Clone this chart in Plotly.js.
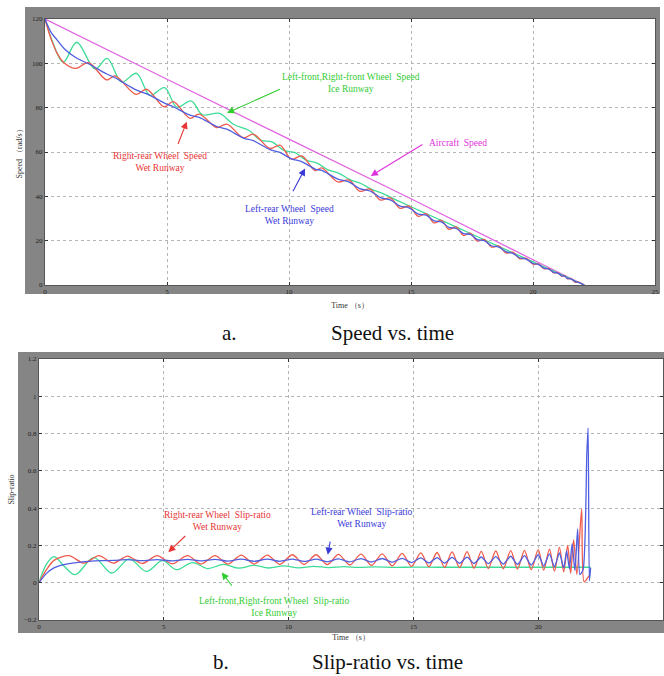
<!DOCTYPE html>
<html>
<head>
<meta charset="utf-8">
<script src="https://cdn.plot.ly/plotly-3.0.1.min.js"></script>
<style>html,body{margin:0;padding:0;background:#fff;}#chart{width:664px;height:676px;}</style>
</head>
<body>
<div id="chart"></div>
<script>
// ---------- Data ----------
// (a) Speed vs. time  [rad/s]
const tAircraft = [0, 5, 10, 15, 20, 22.1];
const speedAircraft = [120, 92.8, 65.8, 38.9, 11.4, 0];

const tWetSpeed = [0, 0.25, 0.5, 0.8, 1.27, 1.78, 2.53, 2.87, 3.73, 4.17, 4.88, 5.26, 5.94, 6.32, 7.04, 7.45, 8.13, 8.54, 9.22, 9.63, 10.1, 10.52, 11.07, 11.34, 12.0, 12.45, 12.9, 13.32, 13.75, 14.15, 14.55, 14.92, 15.3, 15.62, 15.95, 16.25, 16.55, 16.85, 17.15, 17.43, 17.72, 18.0, 18.3, 18.6, 18.9, 19.17, 19.45, 19.72, 20.0, 20.22, 20.45, 20.65, 20.85, 21.02, 21.18, 21.3, 21.42, 21.55, 21.74, 21.84, 22.1];
const speedRightRear = [120, 111, 104.5, 100, 97.7, 100.3, 92.5, 94.3, 86.0, 88.3, 80.4, 82.7, 75.2, 77.1, 71.0, 72.6, 66.4, 68.0, 61.6, 63.1, 56.8, 58.2, 51.6, 52.8, 46.5, 47.4, 42.3, 43.3, 38.3, 39.3, 34.6, 35.6, 31.0, 32.2, 28.0, 29.2, 25.1, 26.2, 22.4, 23.4, 19.8, 20.6, 17.1, 17.6, 14.4, 14.8, 11.9, 12.0, 9.4, 9.5, 7.4, 7.4, 5.5, 5.5, 4.0, 4.1, 2.8, 2.9, 1.2, 1.4, 0];
const speedLeftRear = [120, 114, 110.5, 106.5, 102.5, 99.8, 95.2, 93.5, 88.0, 86.2, 82.2, 80.4, 76.6, 75.6, 71.5, 70.3, 66.3, 65.1, 61.1, 59.8, 56.9, 55.7, 52.3, 51.7, 47.8, 46.5, 43.5, 42.4, 39.4, 38.4, 35.6, 34.8, 32.0, 31.5, 28.9, 28.5, 26.0, 25.5, 23.2, 22.8, 20.5, 20.0, 17.7, 17.1, 14.9, 14.3, 12.3, 11.7, 9.7, 9.3, 7.6, 7.2, 5.7, 5.4, 4.15, 4.0, 2.9, 2.8, 1.5, 1.3, 0];

const tIceSpeed = [0, 0.3, 0.75, 1.3, 2.05, 2.55, 3.14, 3.75, 4.3, 4.9, 5.4, 6.0, 6.45, 7.15, 7.72, 8.35, 8.85, 9.3, 9.8, 10.25, 10.7, 11.15, 11.6, 12.05, 12.5, 12.95, 13.4, 13.85, 14.5, 15.5, 16.5, 17.5, 18.5, 19.5, 20.5, 21.5, 22.1];
const speedIceFront = [120, 110, 100.5, 109.5, 97.5, 102.2, 91.6, 95.5, 85.6, 89.0, 80.3, 83.0, 76.8, 77.4, 72.5, 69.8, 65.3, 64.6, 60.7, 59.7, 56.3, 55.0, 51.9, 50.4, 47.5, 45.8, 43.1, 41.2, 37.8, 32.8, 27.9, 22.9, 17.9, 12.9, 8.0, 3.0, 0];

// (b) Slip-ratio vs. time
const tSlipRightRear = [0, 0.3, 0.6, 1.2, 1.8, 2.4, 2.98, 3.55, 4.14, 4.73, 5.34, 5.95, 6.5, 7.05, 7.58, 8.1, 8.62, 9.15, 9.65, 10.15, 10.62, 11.1, 11.55, 12.0, 12.45, 12.9, 13.32, 13.75, 14.15, 14.55, 14.92, 15.3, 15.62, 15.95, 16.25, 16.55, 16.85, 17.15, 17.43, 17.72, 18.0, 18.3, 18.6, 18.9, 19.17, 19.45, 19.72, 20.0, 20.22, 20.45, 20.65, 20.85, 21.02, 21.18, 21.3, 21.42, 21.55, 21.74, 21.84, 22.0, 22.08];
const slipRightRear = [0, 0.07, 0.12, 0.145, 0.105, 0.145, 0.105, 0.143, 0.103, 0.145, 0.102, 0.145, 0.1, 0.145, 0.1, 0.148, 0.1, 0.148, 0.098, 0.15, 0.098, 0.15, 0.097, 0.152, 0.095, 0.153, 0.093, 0.155, 0.09, 0.157, 0.088, 0.16, 0.085, 0.162, 0.082, 0.165, 0.08, 0.167, 0.078, 0.168, 0.076, 0.17, 0.075, 0.172, 0.073, 0.174, 0.07, 0.177, 0.068, 0.18, 0.062, 0.19, 0.058, 0.2, 0.05, 0.23, 0.045, 0.395, 0.005, 0.03, 0.045];

const tSlipLeftRear = [0, 0.3, 0.6, 1.0, 1.5, 2.0, 2.5, 3.0, 3.55, 4.14, 4.73, 5.34, 5.95, 6.5, 7.05, 7.58, 8.1, 8.62, 9.15, 9.65, 10.15, 10.62, 11.1, 11.55, 12.0, 12.45, 12.9, 13.32, 13.75, 14.15, 14.55, 14.92, 15.3, 15.62, 15.95, 16.25, 16.55, 16.85, 17.15, 17.43, 17.72, 18.0, 18.3, 18.6, 18.9, 19.17, 19.45, 19.72, 20.0, 20.22, 20.45, 20.65, 20.85, 21.02, 21.14, 21.25, 21.36, 21.47, 21.58, 21.67, 21.8, 21.95, 22.0, 22.05, 22.1];
const slipLeftRear = [0, 0.05, 0.08, 0.097, 0.108, 0.114, 0.118, 0.12, 0.124, 0.118, 0.124, 0.117, 0.125, 0.117, 0.125, 0.116, 0.126, 0.115, 0.126, 0.115, 0.127, 0.114, 0.127, 0.113, 0.128, 0.112, 0.129, 0.111, 0.13, 0.11, 0.131, 0.108, 0.133, 0.106, 0.135, 0.105, 0.136, 0.104, 0.137, 0.103, 0.138, 0.102, 0.14, 0.1, 0.142, 0.098, 0.145, 0.095, 0.15, 0.09, 0.155, 0.085, 0.16, 0.08, 0.17, 0.075, 0.21, 0.065, 0.288, 0.043, 0.07, 0.7, 0.83, 0.01, 0.08];

const tSlipIce = [0, 0.3, 0.6, 1.0, 1.45, 2.2, 2.92, 3.62, 4.3, 4.95, 5.5, 6.15, 6.75, 7.4, 8.0, 8.6, 9.2, 9.8, 10.4, 11.0, 11.6, 12.2, 12.8, 13.5, 14.2, 15.0, 16.0, 17.0, 18.0, 19.0, 20.0, 21.0, 22.1];
const slipIceFront = [0, 0.1, 0.14, 0.09, 0.043, 0.135, 0.052, 0.128, 0.061, 0.118, 0.07, 0.108, 0.076, 0.098, 0.078, 0.093, 0.079, 0.09, 0.08, 0.088, 0.081, 0.086, 0.082, 0.085, 0.082, 0.084, 0.083, 0.083, 0.083, 0.083, 0.083, 0.083, 0.083];

const xTicks = [0, 5, 10, 15, 20, 25];
const speedTicks = [0, 20, 40, 60, 80, 100, 120];
const slipTicks = [-0.2, 0, 0.2, 0.4, 0.6, 0.8, 1, 1.2];

// ---------- Layout helpers ----------
const W = 664, H = 676;
const px = v => v / W;
const py = v => 1 - v / H;

const C = {
  magenta: '#e066e0', magentaText: '#dd33dd',
  green: '#3ddc97', greenText: '#33cc33',
  red: '#f05a4a', redText: '#e83434',
  blue: '#4f5fe0', blueText: '#3a3ad8'
};
const SERIF = '"Liberation Serif", "DejaVu Serif", serif';

function line(x, y, color, xa, ya, name, smooth) {
  return {x: x, y: y, type: 'scatter', mode: 'lines', name: name, xaxis: xa, yaxis: ya,
    line: {color: color, width: 1.3, shape: 'spline', smoothing: smooth}, hoverinfo: 'skip'};
}

const traces = [
  line(tAircraft, speedAircraft, C.magenta, 'x', 'y', 'Aircraft Speed', 0),
  line(tIceSpeed, speedIceFront, C.green, 'x', 'y', 'Left-front,Right-front Wheel Speed (Ice Runway)', 1),
  line(tWetSpeed, speedRightRear, C.red, 'x', 'y', 'Right-rear Wheel Speed (Wet Runway)', 1),
  line(tWetSpeed, speedLeftRear, C.blue, 'x', 'y', 'Left-rear Wheel Speed (Wet Runway)', 1),
  line(tSlipIce, slipIceFront, C.green, 'x2', 'y2', 'Left-front,Right-front Wheel Slip-ratio (Ice Runway)', 1),
  line(tSlipRightRear, slipRightRear, C.red, 'x2', 'y2', 'Right-rear Wheel Slip-ratio (Wet Runway)', 0.8),
  line(tSlipLeftRear, slipLeftRear, C.blue, 'x2', 'y2', 'Left-rear Wheel Slip-ratio (Wet Runway)', 0.6)
];

const tickFont = {family: SERIF, size: 7, color: '#222'};
function xAxis(dom, anchor, standoff) {
  return {domain: dom, anchor: anchor, range: [0, 25], tickvals: xTicks, ticks: 'inside', ticklen: 3,
    tickcolor: '#333', showline: true, linecolor: '#555', linewidth: 1, mirror: 'ticks',
    showgrid: true, gridcolor: '#b5b5b5', griddash: 'dot', gridwidth: 1, zeroline: false,
    tickfont: tickFont, automargin: false,
    title: {text: 'Time （s）', font: {family: SERIF, size: 8, color: '#333'}, standoff: standoff}};
}
function yAxis(dom, anchor, range, vals, title, standoff) {
  return {domain: dom, anchor: anchor, range: range, tickvals: vals, ticks: 'inside', ticklen: 3,
    tickcolor: '#333', showline: true, linecolor: '#555', linewidth: 1, mirror: 'ticks',
    showgrid: true, gridcolor: '#b5b5b5', griddash: 'dot', gridwidth: 1, zeroline: false,
    tickfont: tickFont, automargin: false,
    title: {text: title, font: {family: SERIF, size: 8, color: '#333'}, standoff: standoff}};
}

// plot areas & frames in pixels
const P1 = {l: 45, r: 655, t: 19, b: 285}, F1 = {l: 25, r: 660, t: 7, b: 294};
const P2 = {l: 39, r: 663, t: 359, b: 620}, F2 = {l: 18, r: 664, t: 352, b: 633};

function framePath(F, P) {
  const o = `M${px(F.l)},${py(F.t)} L${px(F.r)},${py(F.t)} L${px(F.r)},${py(F.b)} L${px(F.l)},${py(F.b)} Z`;
  const i = `M${px(P.l)},${py(P.t)} L${px(P.l)},${py(P.b)} L${px(P.r)},${py(P.b)} L${px(P.r)},${py(P.t)} Z`;
  return {type: 'path', xref: 'paper', yref: 'paper', path: o + ' ' + i, fillcolor: '#858585',
    fillrule: 'evenodd', line: {width: 0}, layer: 'below'};
}

function label(text, x, y, xa, ya, color) {
  return {text: text, x: x, y: y, xref: xa, yref: ya, showarrow: false,
    font: {family: SERIF, size: 9.5, color: color}, align: 'center', xanchor: 'center', yanchor: 'middle'};
}
function arrow(x, y, ax, ay, xa, ya, color) {
  return {x: x, y: y, ax: ax, ay: ay, xref: xa, yref: ya, axref: xa, ayref: ya, showarrow: true,
    arrowhead: 2, arrowsize: 1.3, arrowwidth: 1.1, arrowcolor: color, standoff: 0, startstandoff: 0};
}
function caption(text, xpix, ypix) {
  return {text: text, x: px(xpix), y: py(ypix), xref: 'paper', yref: 'paper', showarrow: false,
    font: {family: SERIF, size: 21, color: '#111'}, xanchor: 'center', yanchor: 'middle'};
}

const annotations = [
  label('Left-front,Right-front Wheel  Speed<br>Ice Runway', 12.54, 91.1, 'x', 'y', C.greenText),
  arrow(7.46, 77.6, 9.75, 88.9, 'x', 'y', C.greenText),
  label('Aircraft  Speed', 16.93, 64.1, 'x', 'y', C.magentaText),
  arrow(13.35, 49.2, 15.59, 64.2, 'x', 'y', C.magentaText),
  label('Right-rear Wheel  Speed<br>Wet Runway', 4.71, 55.5, 'x', 'y', C.redText),
  arrow(5.81, 73.7, 5.33, 60.1, 'x', 'y', C.redText),
  label('Left-rear Wheel  Speed<br>Wet Runway', 10.04, 31.4, 'x', 'y', C.blueText),
  arrow(10.66, 52.6, 10.04, 39.8, 'x', 'y', C.blueText),

  label('Right-rear Wheel  Slip-ratio<br>Wet Runway', 7.17, 0.331, 'x2', 'y2', C.redText),
  arrow(5.18, 0.164, 5.98, 0.266, 'x2', 'y2', C.redText),
  label('Left-rear Wheel  Slip-ratio<br>Wet Runway', 12.94, 0.349, 'x2', 'y2', C.blueText),
  arrow(11.57, 0.15, 11.73, 0.266, 'x2', 'y2', C.blueText),
  label('Left-front,Right-front Wheel  Slip-ratio<br>Ice Runway', 9.42, -0.131, 'x2', 'y2', C.greenText),
  arrow(7.32, 0.055, 7.85, -0.037, 'x2', 'y2', C.greenText),

  caption('a.', 230, 333),
  caption('Speed vs. time', 392, 333),
  caption('b.', 221, 662),
  caption('Slip-ratio vs. time', 387.5, 662)
];

const layout = {
  width: W, height: H,
  margin: {l: 0, r: 0, t: 0, b: 0, pad: 0},
  paper_bgcolor: '#ffffff', plot_bgcolor: '#ffffff',
  showlegend: false,
  font: {family: SERIF, color: '#222'},
  xaxis: xAxis([px(P1.l), px(P1.r)], 'y', 6),
  yaxis: yAxis([py(P1.b), py(P1.t)], 'x', [0, 120], speedTicks, 'Speed （rad/s）', 8),
  xaxis2: xAxis([px(P2.l), px(P2.r)], 'y2', 3),
  yaxis2: yAxis([py(P2.b), py(P2.t)], 'x2', [-0.2, 1.2], slipTicks, 'Slip-ratio', 8),
  shapes: [framePath(F1, P1), framePath(F2, P2)],
  annotations: annotations
};

Plotly.newPlot('chart', traces, layout, {staticPlot: true, displayModeBar: false});
</script>
</body>
</html>
